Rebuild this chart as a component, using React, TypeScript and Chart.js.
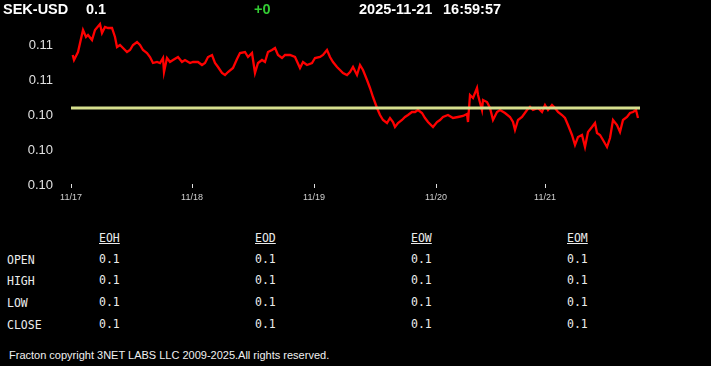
import React, { useEffect, useRef } from 'react';
import { Chart, registerables } from 'chart.js';

Chart.register(...registerables);

// ---- data ----
const symbol = 'SEK-USD';
const lastPrice = '0.1';
const change = '+0';
const quoteDate = '2025-11-21';
const quoteTime = '16:59:57';

// hours since 11/17 00:00 (chart time units)
const hours = [
  0.34, 0.6, 1.4, 2.4, 3.0, 3.4, 4.2, 4.8, 5.8, 6.2, 6.8, 7.4, 8.2, 8.8, 9.2, 9.8,
  10.4, 11.2, 11.8, 12.4, 13.2, 13.8, 14.4, 15.2, 15.8, 16.4, 17.2, 17.8, 18.4, 18.6,
  19.2, 19.8, 20.4, 21.4, 22.2, 22.8, 23.8, 24.4, 25.4, 26.2, 26.8, 27.4, 28.2, 28.8,
  29.4, 30.2, 30.8, 31.4, 32.4, 33.2, 33.8, 34.8, 35.4, 36.2, 36.8, 37.4, 38.2, 38.8,
  39.4, 40.2, 40.8, 41.4, 42.2, 42.8, 43.8, 44.8, 45.8, 46.4, 47.2, 48.2, 48.8, 49.8,
  50.4, 51.2, 51.8, 52.4, 53.2, 53.8, 54.4, 55.2, 55.8, 56.4, 57.2, 57.8, 58.4, 59.2,
  59.8, 60.4, 61.2, 61.8, 62.4, 63.2, 63.8, 64.4, 64.8, 65.4, 66.2, 66.8, 67.4, 68.2,
  68.8, 69.4, 70.2, 70.8, 71.4, 72.4, 73.2, 73.8, 74.4, 75.4, 76.4, 77.4, 78.4, 79.2,
  79.4, 79.8, 80.4, 81.2, 81.4, 82.2, 82.4, 83.2, 83.8, 84.4, 85.2, 85.8, 86.8, 87.8,
  88.4, 88.8, 89.4, 90.2, 91.2, 91.8, 92.4, 93.4, 94.2, 94.8, 95.4, 96.2, 96.8, 97.4,
  98.2, 98.8, 99.4, 100.2, 100.8, 101.4, 102.2, 102.8, 103.4, 104.2, 104.8, 105.2, 105.8,
  106.4, 107.2, 107.8, 108.4, 109.2, 109.8, 110.4, 111.2, 111.8, 112.4, 113.0, 113.4,
];

const rates = [
  0.10529, 0.10524, 0.10532, 0.10554, 0.10547, 0.10549, 0.10544, 0.10554, 0.10560, 0.10551,
  0.10557, 0.10556, 0.10556, 0.10547, 0.10537, 0.10539, 0.10536, 0.10532, 0.10534, 0.10539,
  0.10542, 0.10539, 0.10534, 0.10531, 0.10527, 0.10521, 0.10522, 0.10521, 0.10526, 0.10512,
  0.10526, 0.10522, 0.10524, 0.10527, 0.10522, 0.10524, 0.10521, 0.10522, 0.10522, 0.10519,
  0.10521, 0.10527, 0.10529, 0.10521, 0.10517, 0.10511, 0.10509, 0.10512, 0.10516, 0.10525,
  0.10531, 0.10532, 0.10527, 0.10531, 0.10511, 0.10521, 0.10524, 0.10522, 0.10532, 0.10534,
  0.10536, 0.10529, 0.10526, 0.10529, 0.10529, 0.10527, 0.10516, 0.10522, 0.10519, 0.10521,
  0.10526, 0.10527, 0.10529, 0.10534, 0.10527, 0.10522, 0.10517, 0.10514, 0.10511, 0.10509,
  0.10512, 0.10517, 0.10509, 0.10519, 0.10514, 0.10504, 0.10496, 0.10487, 0.10476, 0.10469,
  0.10464, 0.10461, 0.10466, 0.10462, 0.10457, 0.10461, 0.10464, 0.10467, 0.10469, 0.10472,
  0.10472, 0.10474, 0.10471, 0.10466, 0.10462, 0.10457, 0.10462, 0.10464, 0.10467, 0.10469,
  0.10466, 0.10467, 0.10468, 0.10470, 0.10462, 0.10489, 0.10486, 0.10496, 0.10489, 0.10474,
  0.10484, 0.10482, 0.10476, 0.10464, 0.10472, 0.10474, 0.10471, 0.10467, 0.10462, 0.10454,
  0.10464, 0.10467, 0.10474, 0.10477, 0.10474, 0.10476, 0.10472, 0.10479, 0.10474, 0.10479,
  0.10476, 0.10472, 0.10469, 0.10466, 0.10459, 0.10449, 0.10439, 0.10447, 0.10449, 0.10437,
  0.10452, 0.10457, 0.10461, 0.10451, 0.10449, 0.10444, 0.10437, 0.10446, 0.10464, 0.10459,
  0.10452, 0.10464, 0.10467, 0.10471, 0.10472, 0.10474, 0.10466,
];

const referenceRate = 0.10476;
const yMin = 0.104;
const yMax = 0.10565;
const yTickValues = [0.104, 0.10435, 0.1047, 0.10505, 0.1054];
const xMin = 0;
const xMax = 113.8;
const xTickHours = [0, 24.2, 48.6, 73, 94.8];
const xTickLabels = ['11/17', '11/18', '11/19', '11/20', '11/21'];

const tableCols = ['EOH', 'EOD', 'EOW', 'EOM'];
const tableRows = ['OPEN', 'HIGH', 'LOW', 'CLOSE'];
const tableValues = [
  ['0.1', '0.1', '0.1', '0.1'],
  ['0.1', '0.1', '0.1', '0.1'],
  ['0.1', '0.1', '0.1', '0.1'],
  ['0.1', '0.1', '0.1', '0.1'],
];
const footerText = 'Fracton copyright 3NET LABS LLC 2009-2025.All rights reserved.';

// ---- layout ----
const colX = [99, 255, 411, 567];
const rowY = [259, 280, 302, 324];

function ChartCanvas() {
  const ref = useRef<HTMLCanvasElement | null>(null);
  useEffect(() => {
    if (!ref.current) return;
    const chart = new Chart(ref.current, {
      type: 'line',
      data: {
        datasets: [
          {
            data: [
              { x: xMin, y: referenceRate },
              { x: xMax, y: referenceRate },
            ],
            borderColor: '#d6df8e',
            borderWidth: 3,
            pointRadius: 0,
            tension: 0,
          },
          {
            data: hours.map((h, i) => ({ x: h, y: rates[i] })),
            borderColor: '#ff0000',
            borderWidth: 2.3,
            pointRadius: 0,
            tension: 0,
          },
        ],
      },
      options: {
        animation: false,
        responsive: false,
        maintainAspectRatio: false,
        layout: { padding: { top: 19, right: 71, left: 0, bottom: 0 } },
        plugins: { legend: { display: false }, tooltip: { enabled: false } },
        scales: {
          x: {
            type: 'linear',
            min: xMin,
            max: xMax,
            afterFit: (s: any) => {
              s.height = 31;
            },
            afterBuildTicks: (s: any) => {
              s.ticks = xTickHours.map((v) => ({ value: v }));
            },
            ticks: {
              callback: (_v: any, i: number) => xTickLabels[i],
              color: '#d0d0d0',
              font: { family: 'Arial', size: 9 },
              padding: 4,
              maxRotation: 0,
              autoSkip: false,
            },
            grid: {
              display: true,
              drawOnChartArea: false,
              drawTicks: true,
              tickLength: 4,
              tickColor: '#e0e0e0',
              color: '#e0e0e0',
            },
            border: { display: false },
          },
          y: {
            min: yMin,
            max: yMax,
            afterFit: (s: any) => {
              s.width = 71;
            },
            afterBuildTicks: (s: any) => {
              s.ticks = yTickValues.map((v) => ({ value: v }));
            },
            ticks: {
              callback: (v: any) => Number(v).toFixed(2),
              color: '#e0e0e0',
              font: { family: 'Arial', size: 13 },
              padding: 10,
              labelOffset: 1.5,
            },
            grid: { display: false },
            border: { display: false },
          },
        },
      },
    });
    return () => chart.destroy();
  }, []);
  return (
    <canvas
      ref={ref}
      width={711}
      height={215}
      style={{ position: 'absolute', left: 0, top: 0, width: 711, height: 215, display: 'block' }}
    />
  );
}

export default function App() {
  useEffect(() => {
    document.body.style.margin = '0';
    document.body.style.background = '#000';
  }, []);
  const head: React.CSSProperties = {
    position: 'absolute',
    top: 1.5,
    fontFamily: 'Arial, "Liberation Sans", sans-serif',
    fontWeight: 'bold',
    fontSize: 14.5,
    lineHeight: '14px',
    color: '#ffffff',
    whiteSpace: 'nowrap',
  };
  const mono: React.CSSProperties = {
    position: 'absolute',
    fontFamily: '"DejaVu Sans Mono", monospace',
    fontSize: 11.5,
    lineHeight: '12px',
    color: '#ececec',
    whiteSpace: 'nowrap',
  };
  return (
    <div style={{ position: 'relative', width: 711, height: 366, background: '#000', overflow: 'hidden' }}>
      <ChartCanvas />
      <span style={{ ...head, left: 3 }}>{symbol}</span>
      <span style={{ ...head, left: 86 }}>{lastPrice}</span>
      <span style={{ ...head, left: 254, color: '#33cc33' }}>{change}</span>
      <span style={{ ...head, left: 359 }}>{quoteDate}</span>
      <span style={{ ...head, left: 443 }}>{quoteTime}</span>
      {tableCols.map((c, j) => (
        <span key={c} style={{ ...mono, left: colX[j], top: 232, textDecoration: 'underline' }}>
          {c}
        </span>
      ))}
      {tableRows.map((r, i) => (
        <React.Fragment key={r}>
          <span style={{ ...mono, left: 7, top: rowY[i] - 5.5 }}>{r}</span>
          {tableValues[i].map((v, j) => (
            <span key={j} style={{ ...mono, left: colX[j], top: rowY[i] - 6.5 }}>
              {v}
            </span>
          ))}
        </React.Fragment>
      ))}
      <span
        style={{
          position: 'absolute',
          left: 9,
          top: 349.5,
          fontFamily: 'Arial, "Liberation Sans", sans-serif',
          fontSize: 11,
          lineHeight: '11px',
          color: '#f0f0f0',
          whiteSpace: 'nowrap',
        }}
      >
        {footerText}
      </span>
    </div>
  );
}
